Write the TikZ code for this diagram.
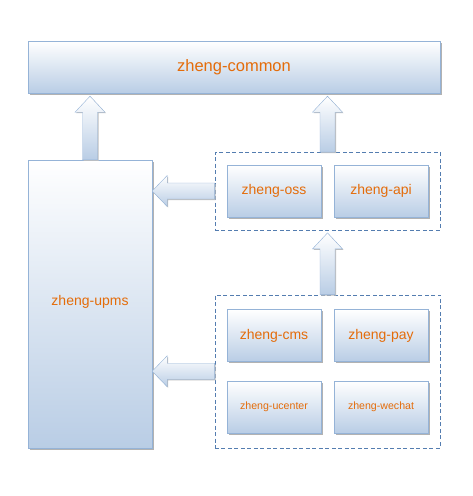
\documentclass[tikz,border=0pt]{standalone}
\usepackage{fontspec}
\setmainfont{Liberation Sans}
\usepackage{tikz}
\usetikzlibrary{calc,fit,shadows}
\definecolor{boxline}{RGB}{149,179,215}
\definecolor{boxblue}{RGB}{185,205,229}
\definecolor{grpline}{RGB}{84,125,176}
\definecolor{modtext}{RGB}{228,108,10}

\tikzset{
  module/.style={draw=boxline, top color=white, bottom color=boxblue,
    general shadow={shadow xshift=1.5pt, shadow yshift=-1.5pt, fill=black!30},
    text=modtext, minimum width=94pt, minimum height=52pt, inner sep=0pt,
    font=\fontsize{14}{16}\selectfont},
  group/.style={draw=grpline, dashed, dash pattern=on 4pt off 2.5pt},
  fatarrow/.style={draw=boxline, top color=white, bottom color=boxblue,
    general shadow={shadow xshift=1pt, shadow yshift=-1pt, fill=black!25}}
}

% block arrows between nodes
\newcommand{\fatup}[2]{%
  \path[fatarrow] let \p1=(#1), \p2=(#2) in
    (\x1-7.5pt,\y1) -- (\x1-7.5pt,\y2-19pt) -- (\x1-15pt,\y2-19pt) -- (\x1,\y2-3pt)
    -- (\x1+15pt,\y2-19pt) -- (\x1+7.5pt,\y2-19pt) -- (\x1+7.5pt,\y1) -- cycle;}
\newcommand{\fatleft}[2]{%
  \path[fatarrow] let \p1=(#1), \p2=(#2) in
    (\x1,\y1+8pt) -- (\x2+15pt,\y1+8pt) -- (\x2+15pt,\y1+15.5pt) -- (\x2,\y1)
    -- (\x2+15pt,\y1-15.5pt) -- (\x2+15pt,\y1-8pt) -- (\x1,\y1-8pt) -- cycle;}

\begin{document}
\begin{tikzpicture}[x=1pt,y=-1pt]
        \useasboundingbox (0,0) rectangle (473,496);

        % top layer
        \node[module, minimum width=412pt, font=\fontsize{16.5}{18}\selectfont] (common) at (234,67) {zheng-common};

        % upms
        \node[module, minimum width=124pt, minimum height=288pt] (upms) at (90,304) {\raisebox{7pt}{zheng-upms}};

        % services
        \node[module] (oss) at (274,191) {zheng-oss};
        \node[module] (api) at (381,191) {zheng-api};
        \node[group, fit=(oss)(api), inner xsep=12pt, inner ysep=12.5pt] (base) {};

        % applications
        \node[module] (cms) at (274,335.5) {zheng-cms};
        \node[module] (pay) at (381,335.5) {zheng-pay};
        \node[module, font=\fontsize{10.6}{12}\selectfont] (ucenter) at (274,407) {zheng-ucenter};
        \node[module, font=\fontsize{10.6}{12}\selectfont] (wechat) at (381,407) {zheng-wechat};
        \node[group, fit=(cms)(pay)(ucenter)(wechat), inner xsep=12pt, inner ysep=14.5pt] (apps) {};

        % block arrows
        \fatup{upms.north}{common.south}
        \fatup{base.north}{common.south}
        \fatup{apps.north}{base.south}
        \fatleft{base.west}{upms.east}
        \fatleft{apps.west}{upms.east}
\end{tikzpicture}
\end{document}
